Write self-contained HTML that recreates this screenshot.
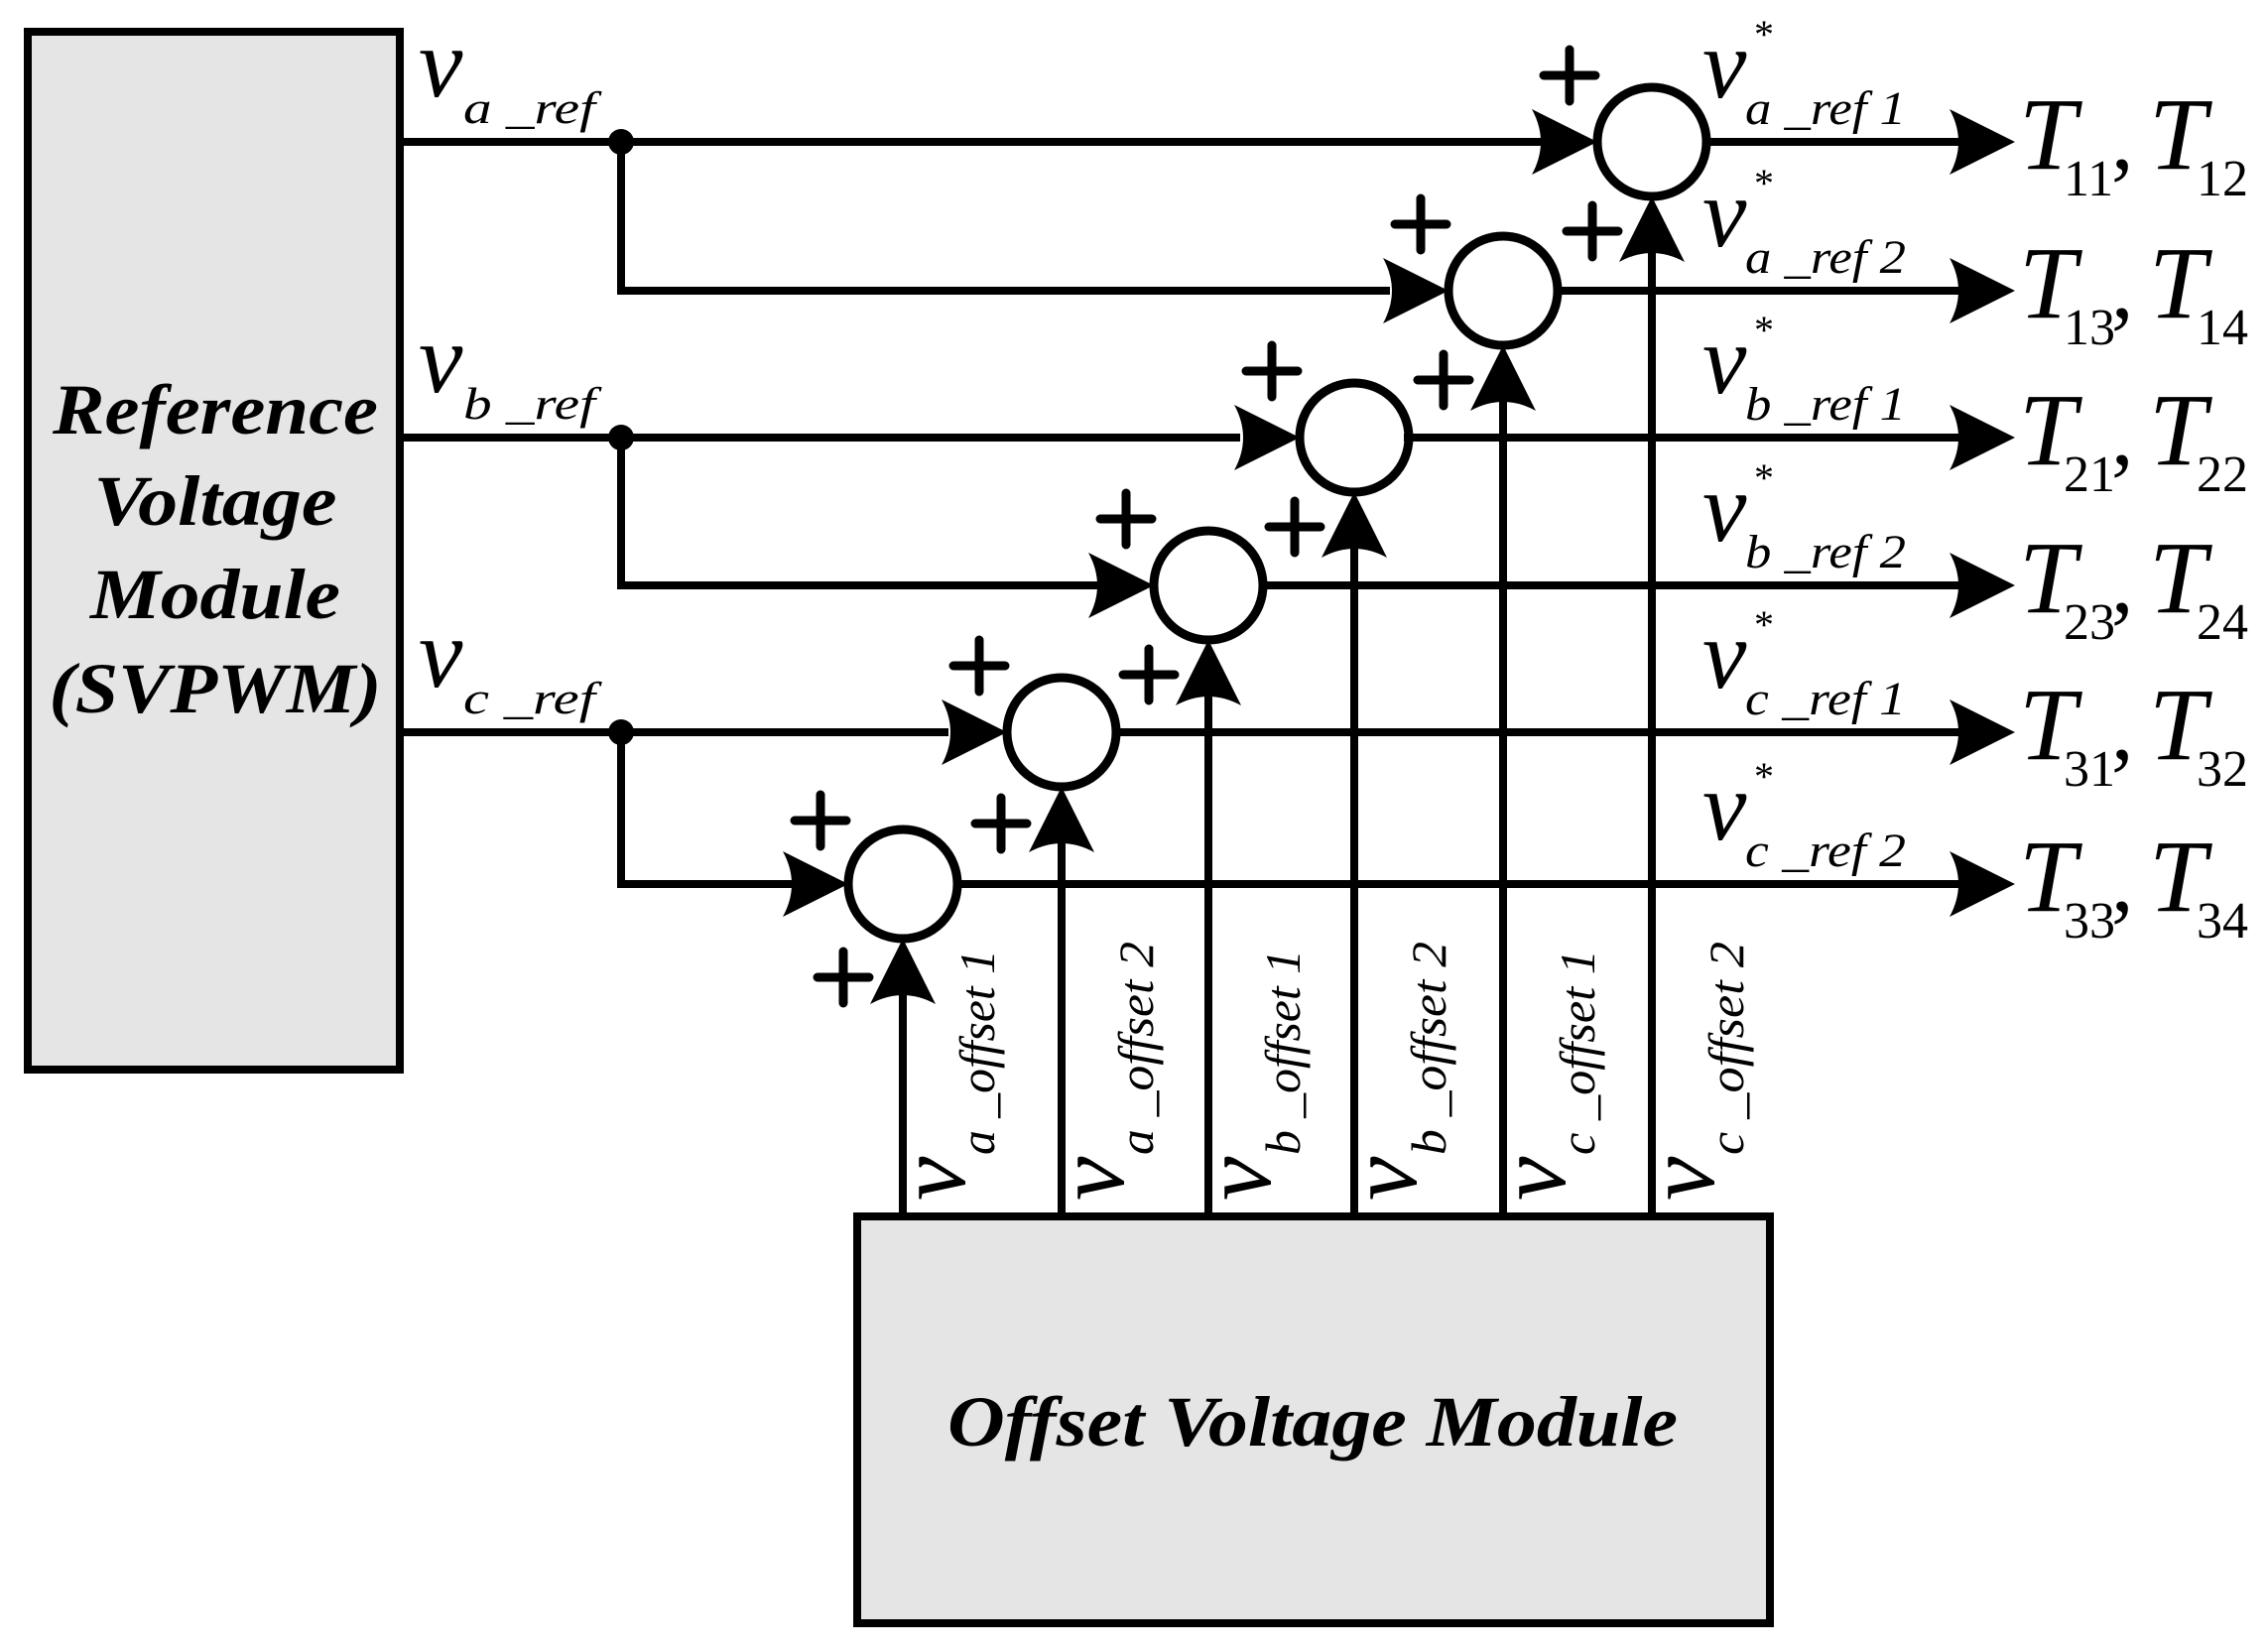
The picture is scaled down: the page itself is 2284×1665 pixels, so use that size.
<!DOCTYPE html>
<html><head><meta charset="utf-8"><style>
html,body{margin:0;padding:0;background:#fff}
svg{display:block}
text{font-family:"Liberation Serif","Times New Roman",serif;fill:#000}
.i{font-style:italic}
.n{font-style:normal}
</style></head><body>
<svg width="2284" height="1665" viewBox="0 0 2284 1665" xmlns="http://www.w3.org/2000/svg">
<defs>
<path id="ah" d="M0,0 L-66,-33 Q-48,0 -66,33 Z" fill="#000"/>
<path id="pl" d="M-26,0 H26 M0,-26 V26" stroke="#000" stroke-width="9" stroke-linecap="round" fill="none"/>
</defs>
<rect x="28" y="32" width="375" height="1046" fill="#e5e5e5" stroke="#000" stroke-width="8"/>
<rect x="864" y="1226" width="920" height="410" fill="#e5e5e5" stroke="#000" stroke-width="8"/>
<g font-weight="bold" font-size="72" text-anchor="middle" class="i">
<text class="i" x="217" y="437" textLength="328" lengthAdjust="spacingAndGlyphs">Reference</text>
<text class="i" x="217" y="529" textLength="245" lengthAdjust="spacingAndGlyphs">Voltage</text>
<text class="i" x="217" y="623" textLength="252" lengthAdjust="spacingAndGlyphs">Module</text>
<text class="i" x="217" y="718" textLength="335" lengthAdjust="spacingAndGlyphs">(SVPWM)</text>
<text class="i" x="1323" y="1457" textLength="736" lengthAdjust="spacingAndGlyphs">Offset Voltage Module</text>
</g>
<g stroke="#000" stroke-width="8" fill="none">
<path d="M403,143 H1555"/>
<path d="M626,143 V293 H1401"/>
<path d="M403,441 H1250"/>
<path d="M626,441 V590 H1108"/>
<path d="M403,738 H956"/>
<path d="M626,738 V891 H800"/>
<path d="M1720,143 H1975"/>
<path d="M1566,293 H1975"/>
<path d="M1415,441 H1975"/>
<path d="M1273,590 H1975"/>
<path d="M1121,738 H1975"/>
<path d="M964,891 H1975"/>
<path d="M910,1226 V960"/>
<path d="M1070,1226 V808"/>
<path d="M1218,1226 V660"/>
<path d="M1365,1226 V511"/>
<path d="M1515,1226 V363"/>
<path d="M1665,1226 V213"/>
<g stroke-width="9">
<circle cx="1665" cy="143" r="55"/>
<circle cx="1515" cy="293" r="55"/>
<circle cx="1365" cy="441" r="55"/>
<circle cx="1218" cy="590" r="55"/>
<circle cx="1070" cy="738" r="55"/>
<circle cx="910" cy="891" r="55"/>
</g>
</g>
<circle cx="626" cy="143" r="13"/>
<circle cx="626" cy="441" r="13"/>
<circle cx="626" cy="738" r="13"/>
<use href="#ah" transform="translate(1610,143)"/>
<use href="#ah" transform="translate(1460,293)"/>
<use href="#ah" transform="translate(1310,441)"/>
<use href="#ah" transform="translate(1163,590)"/>
<use href="#ah" transform="translate(1015,738)"/>
<use href="#ah" transform="translate(855,891)"/>
<use href="#ah" transform="translate(1665,198) rotate(-90)"/>
<use href="#ah" transform="translate(1515,348) rotate(-90)"/>
<use href="#ah" transform="translate(1365,496) rotate(-90)"/>
<use href="#ah" transform="translate(1218,645) rotate(-90)"/>
<use href="#ah" transform="translate(1070,793) rotate(-90)"/>
<use href="#ah" transform="translate(910,946) rotate(-90)"/>
<use href="#ah" transform="translate(2031,143)"/>
<use href="#ah" transform="translate(2031,293)"/>
<use href="#ah" transform="translate(2031,441)"/>
<use href="#ah" transform="translate(2031,590)"/>
<use href="#ah" transform="translate(2031,738)"/>
<use href="#ah" transform="translate(2031,891)"/>
<use href="#pl" transform="translate(1582,76)"/><use href="#pl" transform="translate(1605,233)"/>
<use href="#pl" transform="translate(1432,226)"/><use href="#pl" transform="translate(1455,383)"/>
<use href="#pl" transform="translate(1282,374)"/><use href="#pl" transform="translate(1305,531)"/>
<use href="#pl" transform="translate(1135,523)"/><use href="#pl" transform="translate(1158,680)"/>
<use href="#pl" transform="translate(987,671)"/><use href="#pl" transform="translate(1009,830)"/>
<use href="#pl" transform="translate(827,827)"/><use href="#pl" transform="translate(850,985)"/>
<g>
<text class="i" x="422" y="97" font-size="100">v</text><text class="i" x="467" y="124" font-size="46" textLength="133" lengthAdjust="spacingAndGlyphs">a _ref</text>
<text class="i" x="422" y="395" font-size="100">v</text><text class="i" x="467" y="422" font-size="46" textLength="133" lengthAdjust="spacingAndGlyphs">b _ref</text>
<text class="i" x="422" y="692" font-size="100">v</text><text class="i" x="467" y="719" font-size="46" textLength="133" lengthAdjust="spacingAndGlyphs">c _ref</text>
</g>
<g>
<text class="i" x="1716" y="98" font-size="100">v</text><text class="n" x="1768" y="48" font-size="40">*</text><text class="i" x="1759" y="125" font-size="48" textLength="162" lengthAdjust="spacingAndGlyphs">a _ref 1</text>
<text class="i" x="1716" y="248" font-size="100">v</text><text class="n" x="1768" y="198" font-size="40">*</text><text class="i" x="1759" y="275" font-size="48" textLength="162" lengthAdjust="spacingAndGlyphs">a _ref 2</text>
<text class="i" x="1716" y="396" font-size="100">v</text><text class="n" x="1768" y="346" font-size="40">*</text><text class="i" x="1759" y="423" font-size="48" textLength="162" lengthAdjust="spacingAndGlyphs">b _ref 1</text>
<text class="i" x="1716" y="545" font-size="100">v</text><text class="n" x="1768" y="495" font-size="40">*</text><text class="i" x="1759" y="572" font-size="48" textLength="162" lengthAdjust="spacingAndGlyphs">b _ref 2</text>
<text class="i" x="1716" y="693" font-size="100">v</text><text class="n" x="1768" y="643" font-size="40">*</text><text class="i" x="1759" y="720" font-size="48" textLength="162" lengthAdjust="spacingAndGlyphs">c _ref 1</text>
<text class="i" x="1716" y="846" font-size="100">v</text><text class="n" x="1768" y="796" font-size="40">*</text><text class="i" x="1759" y="873" font-size="48" textLength="162" lengthAdjust="spacingAndGlyphs">c _ref 2</text>
</g>
<g>
<g><text class="i" x="2035" y="170" font-size="104">T</text><text class="n" x="2080" y="197" font-size="52">11</text><text class="n" x="2128" y="170" font-size="90">,</text><text class="i" x="2166" y="170" font-size="104">T</text><text class="n" x="2214" y="197" font-size="52">12</text></g>
<g transform="translate(0,150)"><text class="i" x="2035" y="170" font-size="104">T</text><text class="n" x="2080" y="197" font-size="52">13</text><text class="n" x="2128" y="170" font-size="90">,</text><text class="i" x="2166" y="170" font-size="104">T</text><text class="n" x="2214" y="197" font-size="52">14</text></g>
<g transform="translate(0,298)"><text class="i" x="2035" y="170" font-size="104">T</text><text class="n" x="2080" y="197" font-size="52">21</text><text class="n" x="2128" y="170" font-size="90">,</text><text class="i" x="2166" y="170" font-size="104">T</text><text class="n" x="2214" y="197" font-size="52">22</text></g>
<g transform="translate(0,447)"><text class="i" x="2035" y="170" font-size="104">T</text><text class="n" x="2080" y="197" font-size="52">23</text><text class="n" x="2128" y="170" font-size="90">,</text><text class="i" x="2166" y="170" font-size="104">T</text><text class="n" x="2214" y="197" font-size="52">24</text></g>
<g transform="translate(0,595)"><text class="i" x="2035" y="170" font-size="104">T</text><text class="n" x="2080" y="197" font-size="52">31</text><text class="n" x="2128" y="170" font-size="90">,</text><text class="i" x="2166" y="170" font-size="104">T</text><text class="n" x="2214" y="197" font-size="52">32</text></g>
<g transform="translate(0,748)"><text class="i" x="2035" y="170" font-size="104">T</text><text class="n" x="2080" y="197" font-size="52">33</text><text class="n" x="2128" y="170" font-size="90">,</text><text class="i" x="2166" y="170" font-size="104">T</text><text class="n" x="2214" y="197" font-size="52">34</text></g>
</g>
<g>
<g transform="translate(972,1210) rotate(-90)"><text class="i" x="0" y="0" font-size="100">v</text><text class="i" x="46" y="30" font-size="50" textLength="207" lengthAdjust="spacingAndGlyphs">a _offset 1</text></g>
<g transform="translate(1132,1210) rotate(-90)"><text class="i" x="0" y="0" font-size="100">v</text><text class="i" x="46" y="30" font-size="50" textLength="215" lengthAdjust="spacingAndGlyphs">a _offset 2</text></g>
<g transform="translate(1280,1210) rotate(-90)"><text class="i" x="0" y="0" font-size="100">v</text><text class="i" x="46" y="30" font-size="50" textLength="207" lengthAdjust="spacingAndGlyphs">b _offset 1</text></g>
<g transform="translate(1427,1210) rotate(-90)"><text class="i" x="0" y="0" font-size="100">v</text><text class="i" x="46" y="30" font-size="50" textLength="215" lengthAdjust="spacingAndGlyphs">b _offset 2</text></g>
<g transform="translate(1577,1210) rotate(-90)"><text class="i" x="0" y="0" font-size="100">v</text><text class="i" x="46" y="30" font-size="50" textLength="207" lengthAdjust="spacingAndGlyphs">c _offset 1</text></g>
<g transform="translate(1727,1210) rotate(-90)"><text class="i" x="0" y="0" font-size="100">v</text><text class="i" x="46" y="30" font-size="50" textLength="215" lengthAdjust="spacingAndGlyphs">c _offset 2</text></g>
</g>
</svg>
</body></html>
